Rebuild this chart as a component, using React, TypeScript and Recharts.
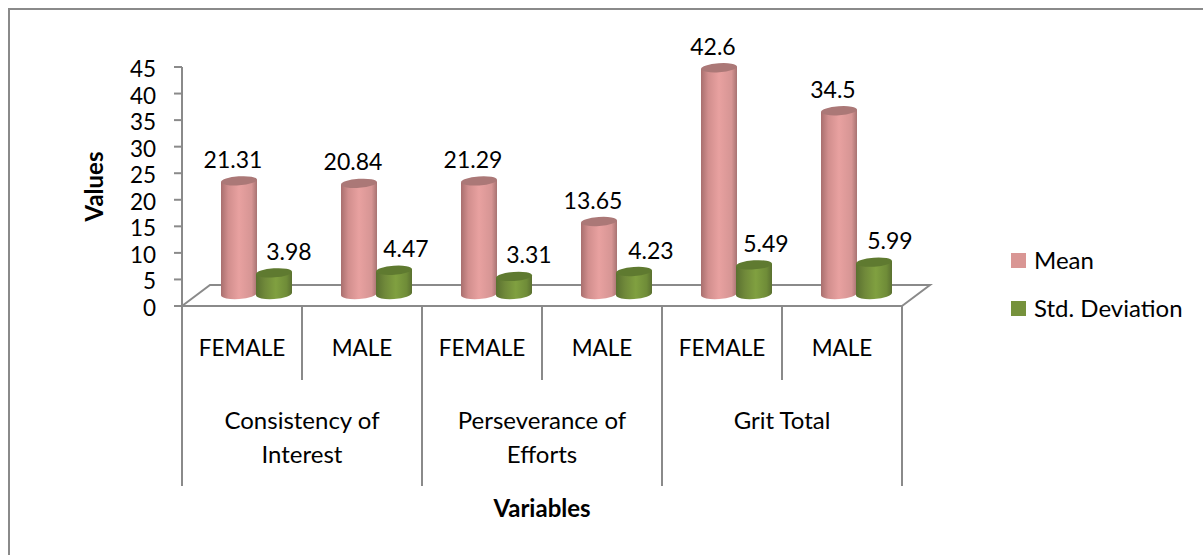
import React from "react";
import {
  BarChart,
  Bar,
  XAxis,
  YAxis,
  Legend,
  LabelList,
  Label,
} from "recharts";

const genders = ["FEMALE", "MALE", "FEMALE", "MALE", "FEMALE", "MALE"];
const groups = [
  "Consistency of|Interest",
  "Consistency of|Interest",
  "Perseverance of|Efforts",
  "Perseverance of|Efforts",
  "Grit Total",
  "Grit Total",
];
const meanValues = [21.31, 20.84, 21.29, 13.65, 42.6, 34.5];
const stdValues = [3.98, 4.47, 3.31, 4.23, 5.49, 5.99];
const yTicks = [0, 5, 10, 15, 20, 25, 30, 35, 40, 45];

const data = genders.map((gender, i) => ({
  gender,
  group: groups[i],
  mean: meanValues[i],
  std: stdValues[i],
}));

// the labels in the original are hand placed, so each one has its own nudge
const meanLabelNudge = [-6, -6, -6, -6, -6, -6];
const stdLabelNudge = [15, 12, 15, 17, 12, 16];

const AXIS_COLOR = "#8a8a8a";
const FONT = "Lato, Carlito, sans-serif";
const TICK_SIZE = 22.5;
const NUMBER_SIZE = 23;
const TEXT_SIZE = 24;
const LEFT = 182;
const TOP = 67;
const RIGHT = 902;
const BOTTOM = 306;
const BAND = (RIGHT - LEFT) / genders.length;

// fake 3D offset of the bars and the floor
const DEPTH_X = 14;
const DEPTH_Y = -12;

const Cylinder = (props: any) => {
  const { x, y, width, height, gradient, topColor } = props;
  const rx = width / 2;
  const ry = 4.5;
  const left = x + DEPTH_X;
  const right = left + width;
  const top = y + DEPTH_Y;
  const bottom = y + height + DEPTH_Y;
  const tilt = 1.2;
  return (
    <g>
      <path
        d={`M${left} ${top + tilt} L${left} ${bottom + tilt} A${rx} ${ry + 0.5} -4 0 0 ${right} ${bottom - tilt} L${right} ${top - tilt} Z`}
        fill={`url(#${gradient})`}
      />
      <ellipse
        cx={left + rx}
        cy={top}
        rx={rx}
        ry={ry}
        fill={topColor}
        transform={`rotate(-4 ${left + rx} ${top})`}
      />
    </g>
  );
};

const valueLabel = (nudges: number[]) => (props: any) => {
  const { x, y, width, value, index } = props;
  return (
    <text
      x={x + width / 2 + DEPTH_X + nudges[index]}
      y={y + DEPTH_Y - 13}
      textAnchor="middle"
      fontFamily={FONT}
      fontSize={NUMBER_SIZE}
      fill="#000"
    >
      {value}
    </text>
  );
};

const GenderTick = (props: any) => {
  const { x, y, payload, index } = props;
  return (
    <g>
      <text
        x={x}
        y={y + 50}
        textAnchor="middle"
        fontFamily={FONT}
        fontSize={TICK_SIZE}
        fill="#000"
      >
        {payload.value}
      </text>
      {index % 2 === 1 && (
        <line
          x1={x - BAND / 2}
          x2={x - BAND / 2}
          y1={y}
          y2={y + 74}
          stroke={AXIS_COLOR}
          strokeWidth={2}
        />
      )}
    </g>
  );
};

const GroupTick = (props: any) => {
  const { x, payload, index } = props;
  const y = BOTTOM;
  const divider = (at: number) => (
    <line x1={at} x2={at} y1={y} y2={y + 180} stroke={AXIS_COLOR} strokeWidth={2} />
  );
  if (index % 2 === 1) {
    return index === genders.length - 1 ? <g>{divider(x + BAND / 2)}</g> : <g />;
  }
  const lines = String(payload.value).split("|");
  return (
    <g>
      {divider(x - BAND / 2)}
      <text
        textAnchor="middle"
        fontFamily={FONT}
        fontSize={TEXT_SIZE}
        fill="#000"
      >
        {lines.map((line, i) => (
          <tspan key={line} x={x + BAND / 2} y={y + 123 + i * 34}>
            {line}
          </tspan>
        ))}
      </text>
    </g>
  );
};

const LegendBox = (props: any) => (
  <div style={{ fontFamily: FONT, fontSize: TEXT_SIZE, color: "#000", lineHeight: "24px" }}>
    {(props.payload || []).map((item: any) => (
      <div
        key={item.value}
        style={{ display: "flex", alignItems: "center", height: 48 }}
      >
        <span
          style={{
            width: 15,
            height: 15,
            background: item.color,
            marginRight: 8,
          }}
        />
        {item.value}
      </div>
    ))}
  </div>
);

export default function App() {
  return (
    <div
      style={{
        position: "absolute",
        left: 0,
        top: 0,
        width: 1203,
        height: 555,
        overflow: "hidden",
        background: "#fff",
      }}
    >
      <div
        style={{
          position: "absolute",
          left: 8,
          top: 8,
          width: 1195,
          height: 547,
          boxSizing: "border-box",
          borderTop: `2px solid ${AXIS_COLOR}`,
          borderLeft: `2px solid ${AXIS_COLOR}`,
        }}
      />
      <div style={{ position: "absolute", left: 0, top: 0 }}>
        <BarChart
          width={1203}
          height={555}
          data={data}
          margin={{ top: TOP, right: 1203 - RIGHT, bottom: 69, left: 0 }}
          barSize={36}
          barGap={-1}
        >
          <defs>
            <linearGradient id="meanSide" x1="0" y1="0" x2="1" y2="0">
              <stop offset="0" stopColor="#a86f6e" />
              <stop offset="0.2" stopColor="#d18e8d" />
              <stop offset="0.5" stopColor="#e8a1a0" />
              <stop offset="0.85" stopColor="#d69594" />
              <stop offset="1" stopColor="#a87372" />
            </linearGradient>
            <linearGradient id="stdSide" x1="0" y1="0" x2="1" y2="0">
              <stop offset="0" stopColor="#5a7030" />
              <stop offset="0.25" stopColor="#70893a" />
              <stop offset="0.55" stopColor="#80a040" />
              <stop offset="0.85" stopColor="#6f8c38" />
              <stop offset="1" stopColor="#5a7030" />
            </linearGradient>
          </defs>
          <path
            d={`M${LEFT} ${BOTTOM} L${LEFT + 28} 285 H${RIGHT + 28} L${RIGHT} ${BOTTOM}`}
            fill="none"
            stroke={AXIS_COLOR}
            strokeWidth={2}
          />
          <XAxis
            dataKey="gender"
            interval={0}
            height={74}
            tickLine={false}
            tickSize={0}
            tickMargin={0}
            tick={<GenderTick />}
            axisLine={{ stroke: AXIS_COLOR, strokeWidth: 2 }}
          />
          <XAxis
            xAxisId="groups"
            dataKey="group"
            interval={0}
            height={106}
            tickLine={false}
            tickSize={0}
            tickMargin={0}
            axisLine={false}
            tick={<GroupTick />}
          />
          <YAxis
            domain={[0, 45]}
            ticks={yTicks}
            interval={0}
            width={LEFT}
            tickSize={8}
            tickMargin={18}
            tick={{ fontFamily: FONT, fontSize: TICK_SIZE, fill: "#000", dy: 2 }}
            tickLine={{ stroke: AXIS_COLOR, strokeWidth: 2 }}
            axisLine={{ stroke: AXIS_COLOR, strokeWidth: 2 }}
          >
            <Label
              value="Values"
              angle={-90}
              position="insideLeft"
              offset={94}
              textAnchor="middle"
              fontFamily={FONT}
              fontSize={TEXT_SIZE}
              fontWeight="bold"
              fill="#000"
            />
          </YAxis>
          <Bar
            dataKey="mean"
            name="Mean"
            fill="#d99694"
            isAnimationActive={false}
            shape={<Cylinder gradient="meanSide" topColor="#ab7877" />}
          >
            <LabelList dataKey="mean" content={valueLabel(meanLabelNudge)} />
          </Bar>
          <Bar
            dataKey="std"
            name="Std. Deviation"
            fill="#76923c"
            isAnimationActive={false}
            shape={<Cylinder gradient="stdSide" topColor="#5f7a30" />}
          >
            <LabelList dataKey="std" content={valueLabel(stdLabelNudge)} />
          </Bar>
          <text
            x={(LEFT + RIGHT) / 2}
            y={517}
            textAnchor="middle"
            fontFamily={FONT}
            fontSize={TEXT_SIZE}
            fontWeight="bold"
            fill="#000"
          >
            Variables
          </text>
          <Legend
            layout="vertical"
            align="center"
            verticalAlign="middle"
            content={<LegendBox />}
            wrapperStyle={{ left: 1011, top: 236, width: 190 }}
          />
        </BarChart>
      </div>
    </div>
  );
}
